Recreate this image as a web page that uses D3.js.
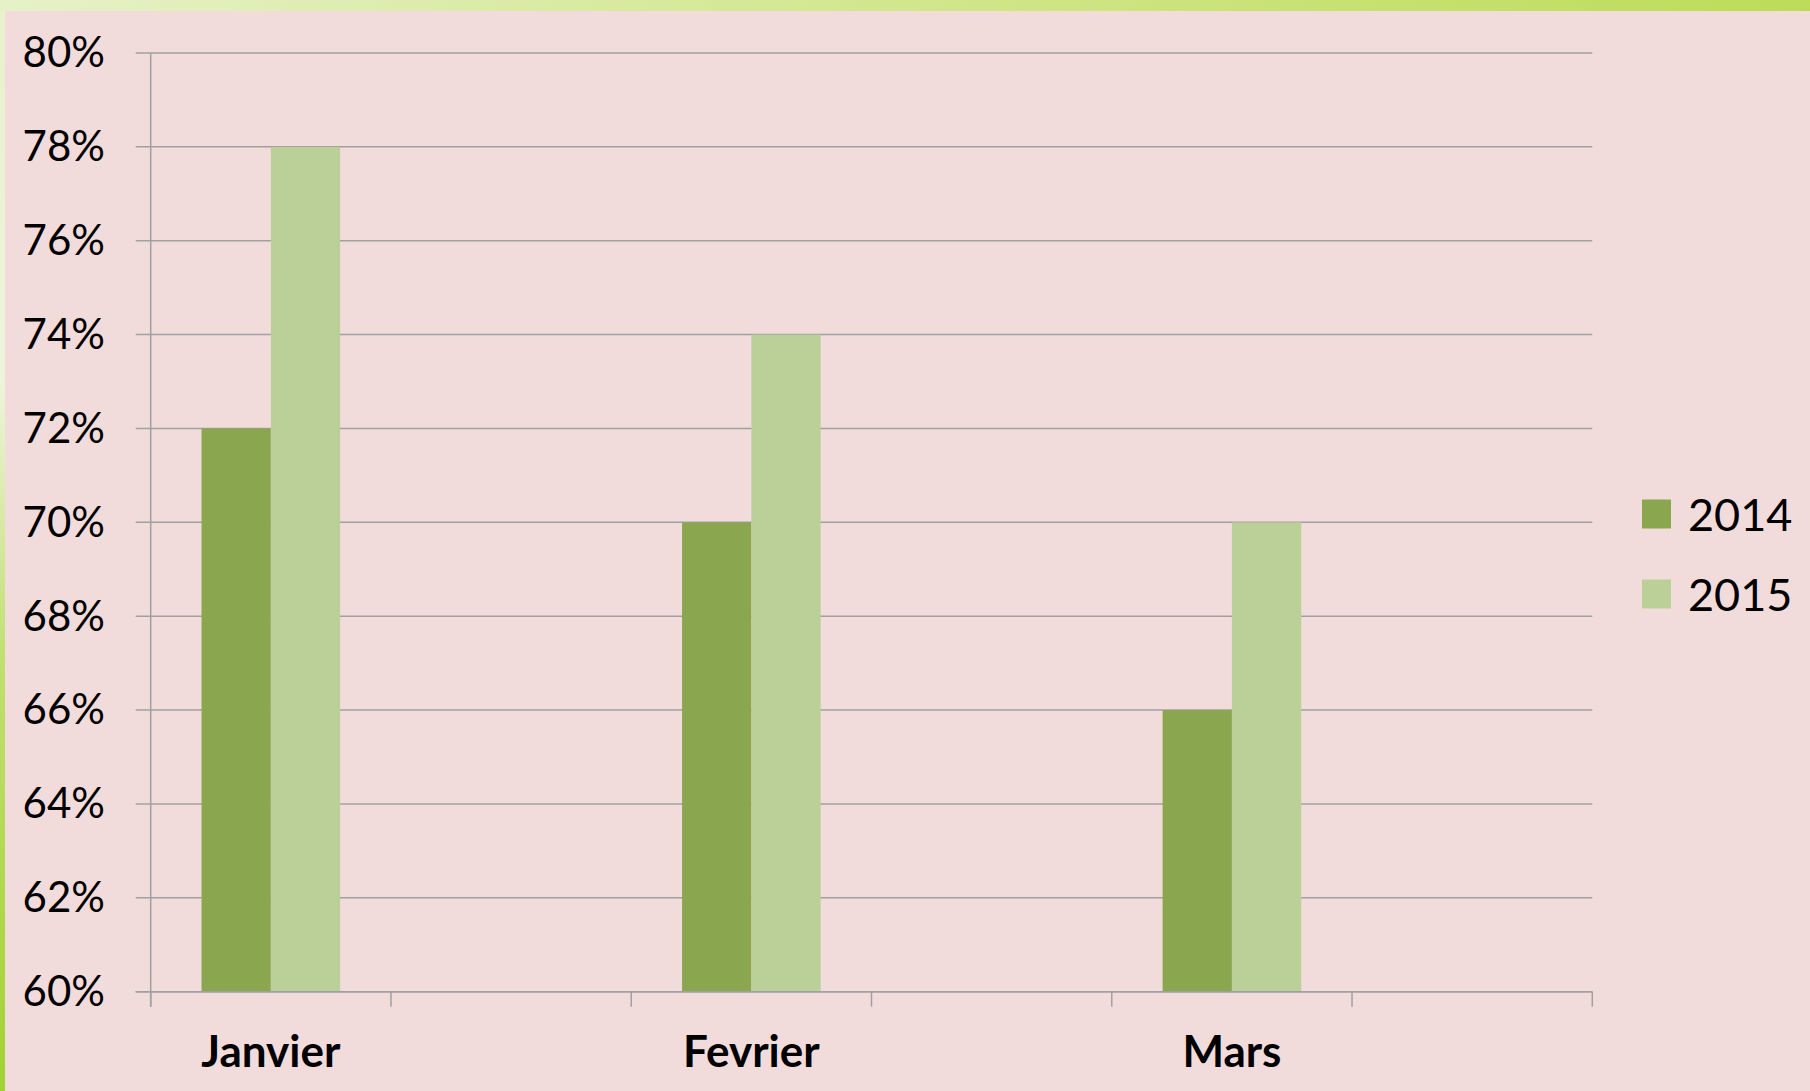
<!DOCTYPE html>
<html><head><meta charset="utf-8">
<script src="https://cdn.jsdelivr.net/npm/d3@7"></script>
<style>html,body{margin:0;padding:0;overflow:hidden;background:#fff}</style>
</head><body>
<svg id="chart" width="1810" height="1091"></svg>
<script>
const categories = ["Janvier", "", "Fevrier", "", "Mars", ""];
const series = ["2014", "2015"];
const values2014 = [0.72, null, 0.70, null, 0.66, null];
const values2015 = [0.78, null, 0.74, null, 0.70, null];
const yTicks = [0.60, 0.62, 0.64, 0.66, 0.68, 0.70, 0.72, 0.74, 0.76, 0.78, 0.80];
const colors = ["#8aa64e", "#bbcf98"];

(function () {
const svg = d3.select("#chart");
const W = 1810, H = 1091;
const defs = svg.append("defs");
const gTop = defs.append("linearGradient").attr("id","gTop").attr("x1","0").attr("x2","1").attr("y1","0").attr("y2","0");
gTop.append("stop").attr("offset","0").attr("stop-color","#e6f1c8");
gTop.append("stop").attr("offset","0.5").attr("stop-color","#d2e68c");
gTop.append("stop").attr("offset","1").attr("stop-color","#bcdc58");
const gLeft = defs.append("linearGradient").attr("id","gLeft").attr("x1","0").attr("x2","0").attr("y1","0").attr("y2","1");
gLeft.append("stop").attr("offset","0").attr("stop-color","#e8f1cc");
gLeft.append("stop").attr("offset","0.35").attr("stop-color","#eef4dc");
gLeft.append("stop").attr("offset","0.6").attr("stop-color","#c0e070");
gLeft.append("stop").attr("offset","1").attr("stop-color","#a2d232");

svg.append("rect").attr("width",W).attr("height",H).attr("fill","url(#gLeft)");
svg.append("rect").attr("x",0).attr("y",0).attr("width",W).attr("height",11).attr("fill","url(#gTop)");
svg.append("rect").attr("x",5).attr("y",11).attr("width",W-5).attr("height",H-11).attr("fill","#f2dcdb");

const pLeft = 150.7, pRight = 1592.3, pTop = 53, pBottom = 991.7;
const y = d3.scaleLinear().domain([0.60, 0.80]).range([pBottom, pTop]);
const x = d3.scaleBand().domain(d3.range(categories.length)).range([pLeft, pRight]).paddingInner(0.423).paddingOuter(0.2115);
const xs = d3.scaleBand().domain(series).range([0, x.bandwidth()]);

// gridlines
svg.append("g").selectAll("line").data(yTicks).join("line")
  .attr("x1", pLeft - 15).attr("x2", pRight)
  .attr("y1", d => y(d)).attr("y2", d => y(d))
  .attr("stroke", "#a0a0a0").attr("stroke-width", 1.5);

// y labels
svg.append("g").selectAll("text").data(yTicks).join("text")
  .attr("x", 105).attr("y", d => y(d)).attr("dy", "0.34em")
  .attr("text-anchor", "end")
  .attr("font-family", "Lato, sans-serif").attr("font-size", 42).attr("fill", "#000")
  .text(d => d3.format(".0%")(d));

// bars
const data = [];
categories.forEach((c, i) => {
  [values2014[i], values2015[i]].forEach((v, j) => { if (v != null) data.push({i, s: series[j], v, c: colors[j]}); });
});
svg.append("g").selectAll("rect").data(data).join("rect")
  .attr("x", d => x(d.i) + xs(d.s))
  .attr("width", xs.bandwidth())
  .attr("y", d => y(d.v))
  .attr("height", d => y(0.60) - y(d.v))
  .attr("fill", d => d.c);

// axes lines
svg.append("line").attr("x1", pLeft).attr("x2", pLeft).attr("y1", pTop).attr("y2", pBottom + 15)
  .attr("stroke", "#a0a0a0").attr("stroke-width", 1.5);
svg.append("line").attr("x1", pLeft - 15).attr("x2", pRight).attr("y1", pBottom).attr("y2", pBottom)
  .attr("stroke", "#a0a0a0").attr("stroke-width", 1.5);
const step = x.step();
svg.append("g").selectAll("line").data(d3.range(categories.length + 1)).join("line")
  .attr("x1", i => pLeft + i * step).attr("x2", i => pLeft + i * step)
  .attr("y1", pBottom).attr("y2", pBottom + 15)
  .attr("stroke", "#a0a0a0").attr("stroke-width", 1.5);

// x labels
svg.append("g").selectAll("text").data(categories.map((c, i) => ({c, i}))).join("text")
  .attr("x", d => x(d.i) + x.bandwidth() / 2).attr("y", 1067)
  .attr("text-anchor", "middle")
  .attr("font-family", "Lato, sans-serif").attr("font-weight", "bold").attr("font-size", 44).attr("fill", "#000")
  .text(d => d.c);

// legend
const lg = svg.append("g").selectAll("g").data(series).join("g")
  .attr("transform", (d, i) => `translate(1642, ${499.5 + i * 80})`);
lg.append("rect").attr("width", 29).attr("height", 29).attr("fill", (d, i) => colors[i]);
lg.append("text").attr("x", 46).attr("y", 31)
  .attr("font-family", "Lato, sans-serif").attr("font-size", 45).attr("fill", "#000")
  .text(d => d);
})();
</script>
</body></html>
